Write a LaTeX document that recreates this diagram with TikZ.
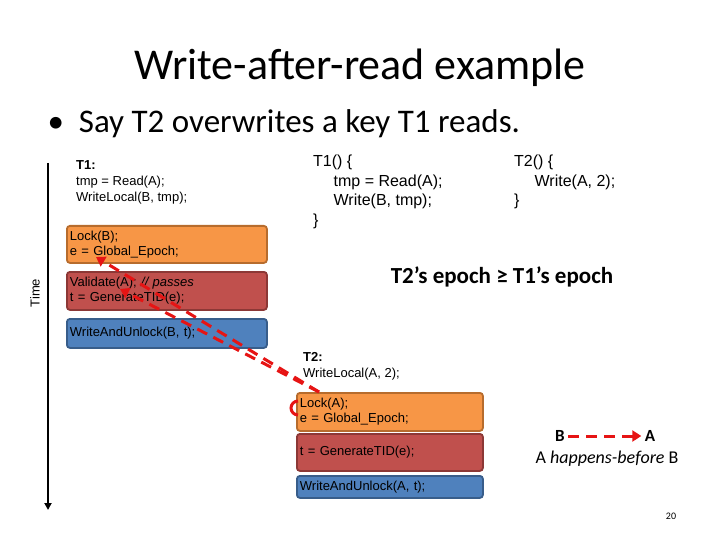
\documentclass[tikz,border=0pt]{standalone}
\usepackage{fontspec}
\setmainfont{Carlito}
\newfontfamily\arialf{Liberation Sans}
\usetikzlibrary{arrows.meta, positioning, calc}
\definecolor{stepOrange}{RGB}{247,150,70}
\definecolor{stepOrangeB}{RGB}{183,108,45}
\definecolor{stepRed}{RGB}{192,80,77}
\definecolor{stepRedB}{RGB}{140,56,54}
\definecolor{stepBlue}{RGB}{79,129,189}
\definecolor{stepBlueB}{RGB}{56,93,138}
\definecolor{hbRed}{RGB}{230,20,20}
\begin{document}
\begin{tikzpicture}[x=1pt, y=-1pt,
  step/.style={rectangle, rounded corners=3pt, line width=1.8pt, anchor=north west,
    align=left, inner sep=3pt, text width=#1, font=\arialf\fontsize{13}{15}\selectfont},
  orange/.style={fill=stepOrange, draw=stepOrangeB},
  red/.style={fill=stepRed, draw=stepRedB},
  blue/.style={fill=stepBlue, draw=stepBlueB},
  code/.style={align=left, anchor=north west, inner sep=0pt, font=\arialf\fontsize{13}{16}\selectfont},
  codeL/.style={align=left, anchor=north west, inner sep=0pt, font=\arialf\fontsize{16}{19.5}\selectfont},
  hb/.style={hbRed, line width=3pt, dash pattern=on 11pt off 7pt, -{Triangle[length=9pt,width=11pt]}}
]
\useasboundingbox (0,0) rectangle (720,540);
\node[font=\fontsize{44}{50}\selectfont] (title) at (360,68) {Write-after-read example};
\node[anchor=west, font=\fontsize{33}{38}\selectfont] (bullet) at (44,124) {\textbullet\ \ Say T2 overwrites a key T1 reads.};

% time axis
\coordinate (tTop) at (48,163);
\coordinate (tBot) at (48,510);
\draw[line width=2pt, -{Triangle[length=7pt,width=7pt]}] (tTop) -- (tBot);
\node[rotate=90, font=\arialf\fontsize{13}{15}\selectfont] (time) at (35,293) {Time};

% T1
\node[code] (t1code) at (76,160) {\textbf{T1:}\\tmp = Read(A);\\WriteLocal(B, tmp);};
\node[step=194pt, orange, minimum height=37pt] (t1lock) at (66,225) {Lock(B);\\e = Global\_Epoch;};
\node[step=194pt, red, minimum height=38pt] (t1val) at (66,271) {Validate(A); \textit{// passes}\\t = GenerateTID(e);};
\node[step=194pt, blue, minimum height=29pt] (t1wr) at (66,318) {WriteAndUnlock(B, t);};

% T2
\node[code] (t2code) at (303,352) {\textbf{T2:}\\WriteLocal(A, 2);};
\node[step=180pt, orange, minimum height=38pt] (t2lock) at (296,392) {Lock(A);\\e = Global\_Epoch;};
\node[step=180pt, red, minimum height=37pt] (t2gen) at (296,433) {t = GenerateTID(e);};
\node[step=180pt, blue, minimum height=22pt] (t2wr) at (296,475) {WriteAndUnlock(A, t);};

% source
\node[codeL] (src1) at (313,155) {T1() \{\\\quad\ tmp = Read(A);\\\quad\ Write(B, tmp);\\\}};
\node[codeL] (src2) at (514,155) {T2() \{\\\quad\ Write(A, 2);\\\}};
\node[font=\bfseries\fontsize{23}{27}\selectfont] (epoch) at (502,277) {T2’s epoch ≥ T1’s epoch};

% happens-before
\coordinate (hbStart) at (319,392);
\coordinate (hbA) at (96,257);
\coordinate (hbB) at (120,289);
\draw[hb] (hbStart) -- (hbA);
\draw[hb] (hbStart) -- (hbB);
\draw[hbRed, line width=3pt] (298,401) arc[start angle=90, end angle=270, radius=7pt];

% legend
\node[font=\bfseries\fontsize{17}{20}\selectfont] (lgB) at (560,436) {B};
\node[font=\bfseries\fontsize{17}{20}\selectfont] (lgA) at (650,436) {A};
\draw[hb] (lgB) -- (lgA);
\node[font=\fontsize{18}{21}\selectfont] (lgText) at (607,459) {A \textit{happens-before} B};
\node[font=\fontsize{10}{12}\selectfont] (page) at (671,516) {20};
\end{tikzpicture}
\end{document}
